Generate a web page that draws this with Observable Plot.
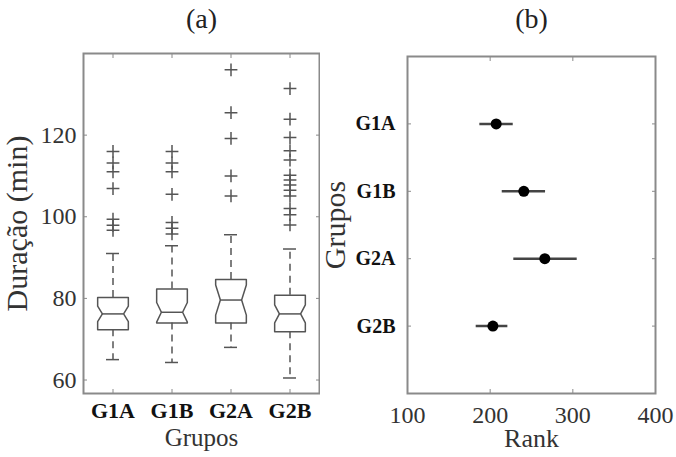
<!DOCTYPE html>
<html><head><meta charset="utf-8">
<script src="https://cdn.jsdelivr.net/npm/d3@7"></script>
<script src="https://cdn.jsdelivr.net/npm/@observablehq/plot@0.6"></script>
<style>
body{margin:0;background:#fff;}
#wrap{position:relative;width:676px;height:457px;overflow:hidden;background:#fff;}
#a{position:absolute;left:0;top:0;}
#b{position:absolute;left:320px;top:0;}
</style></head><body><div id="wrap"><div id="a"></div><div id="b"></div></div>
<script>
// ---- Data: panel (a) boxplots ----
const groups = ["G1A", "G1B", "G2A", "G2B"];
const q1 = [72.3, 74.0, 74.0, 71.8];
const medians = [76.2, 76.6, 79.6, 76.2];
const q3 = [80.2, 82.3, 84.6, 80.8];
const notchHalf = [1.9, 2.4, 3.7, 2.2];
const whiskerLow = [65.0, 64.3, 68.0, 60.5];
const whiskerHigh = [91.0, 92.9, 95.6, 92.1];
const outliersG1A = [116.0, 113.2, 111.0, 106.9, 99.4, 97.9, 96.7];
const outliersG1B = [116.0, 113.2, 111.0, 105.5, 98.6, 97.2, 95.8];
const outliersG2A = [136.0, 125.5, 119.2, 110.0, 105.1];
const outliersG2B = [131.4, 123.9, 119.4, 116.2, 113.9, 110.2, 109.0, 107.8, 106.5, 105.1, 102.0, 100.5, 98.0];
const durTicks = [60, 80, 100, 120];
const groupTicks = [1, 2, 3, 4];

// ---- Data: panel (b) rank intervals ----
const rankMean = [207.3, 240.7, 266.1, 203.3];
const rankLow = [187.5, 214.6, 228.6, 183.1];
const rankHigh = [227.9, 267.0, 305.3, 221.4];
const rankTicks = [100, 200, 300, 400];

// ---- Build tables ----
const boxHalf = 0.26, notchInner = 0.18, capHalf = 0.11;
const boxes = groups.map((g, i) => ({g, x: i + 1, q1: q1[i], med: medians[i], q3: q3[i], n: notchHalf[i], lo: whiskerLow[i], hi: whiskerHigh[i]}));
const outline = boxes.flatMap(b => [
  [b.x - boxHalf, b.q3], [b.x + boxHalf, b.q3], [b.x + boxHalf, b.med + b.n], [b.x + notchInner, b.med],
  [b.x + boxHalf, b.med - b.n], [b.x + boxHalf, b.q1], [b.x - boxHalf, b.q1], [b.x - boxHalf, b.med - b.n],
  [b.x - notchInner, b.med], [b.x - boxHalf, b.med + b.n], [b.x - boxHalf, b.q3]
].map(([x, y]) => ({g: b.g, x, y})));
const outlierLists = [outliersG1A, outliersG1B, outliersG2A, outliersG2B];
const outliers = outlierLists.flatMap((arr, i) => arr.map(v => ({x: i + 1, y: v})));
const ranks = groups.map((g, i) => ({g, pos: groups.length - i, mean: rankMean[i], lo: rankLow[i], hi: rankHigh[i]}));

const serif = "'Liberation Serif', 'Times New Roman', serif";
const frameColor = "#8a8a8a";

const plotA = Plot.plot({
  width: 340, height: 457,
  marginLeft: 83, marginRight: 21, marginTop: 53, marginBottom: 64,
  style: {fontFamily: serif, fontSize: "24px", color: "#333", background: "white", overflow: "visible"},
  x: {domain: [0.5, 4.5]},
  y: {domain: [56.7, 140]},
  marks: [
    Plot.frame({stroke: frameColor, strokeWidth: 2}),
    Plot.axisY(durTicks, {anchor: "left", tickSize: -4, tickPadding: 11, stroke: frameColor, fill: "#333", label: null}),
    Plot.axisY([], {anchor: "left", tickSize: 0, fill: "#333", fontSize: 30,
      label: "Duração (min)", labelAnchor: "center", labelOffset: 78, labelArrow: "none"}),
    Plot.axisY(durTicks, {anchor: "right", tickSize: -4, stroke: frameColor, fill: "none", label: null}),
    Plot.axisX(groupTicks, {anchor: "bottom", tickSize: -4, tickPadding: 13, stroke: frameColor,
      tickFormat: i => groups[i - 1], fontWeight: "bold", fontSize: 22, fill: "#111", label: null}),
    Plot.axisX([], {anchor: "bottom", tickSize: 0, fill: "#333", fontSize: 25, label: "Grupos", labelAnchor: "center", labelOffset: 52, labelArrow: "none"}),
    Plot.axisX(groupTicks, {anchor: "top", tickSize: -4, stroke: frameColor, fill: "none", label: null}),
    Plot.ruleX(boxes, {x: "x", y1: "q3", y2: "hi", stroke: "#555", strokeWidth: 1.5, strokeDasharray: "7,5"}),
    Plot.ruleX(boxes, {x: "x", y1: "q1", y2: "lo", stroke: "#555", strokeWidth: 1.5, strokeDasharray: "7,5"}),
    Plot.ruleY(boxes, {y: "hi", x1: d => d.x - capHalf, x2: d => d.x + capHalf, stroke: "#555", strokeWidth: 1.5}),
    Plot.ruleY(boxes, {y: "lo", x1: d => d.x - capHalf, x2: d => d.x + capHalf, stroke: "#555", strokeWidth: 1.5}),
    Plot.line(outline, {x: "x", y: "y", z: "g", stroke: "#555", strokeWidth: 1.5}),
    Plot.ruleY(boxes, {y: "med", x1: d => d.x - notchInner, x2: d => d.x + notchInner, stroke: "#555", strokeWidth: 1.5}),
    Plot.dot(outliers, {x: "x", y: "y", symbol: "plus", r: 4.2, stroke: "#555", strokeWidth: 1.5}),
    Plot.text(["(a)"], {frameAnchor: "top", lineAnchor: "bottom", dy: -26, fontSize: 28, fill: "#222"})
  ]
});
document.getElementById("a").appendChild(plotA);

const plotB = Plot.plot({
  width: 356, height: 457,
  marginLeft: 87, marginRight: 21, marginTop: 56, marginBottom: 64,
  style: {fontFamily: serif, fontSize: "24px", color: "#333", background: "white", overflow: "visible"},
  x: {domain: [100, 400]},
  y: {domain: [0, 5]},
  marks: [
    Plot.frame({stroke: frameColor, strokeWidth: 2}),
    Plot.axisX(rankTicks, {anchor: "bottom", tickSize: -4, tickPadding: 16, stroke: frameColor, fill: "#333", label: null}),
    Plot.axisX([], {anchor: "bottom", tickSize: 0, fill: "#333", fontSize: 26, label: "Rank", labelAnchor: "center", labelOffset: 53, labelArrow: "none"}),
    Plot.axisX(rankTicks, {anchor: "top", tickSize: -4, stroke: frameColor, fill: "none", label: null}),
    Plot.axisY([1, 2, 3, 4], {anchor: "left", tickSize: -4, tickPadding: 16, stroke: frameColor,
      tickFormat: p => groups[groups.length - p], fontWeight: "bold", fontSize: 20, fill: "#111", label: null}),
    Plot.axisY([], {anchor: "left", tickSize: 0, fill: "#333", fontSize: 30, label: "Grupos", labelAnchor: "center", labelOffset: 84, labelArrow: "none"}),
    Plot.axisY([1, 2, 3, 4], {anchor: "right", tickSize: -4, stroke: frameColor, fill: "none", label: null}),
    Plot.ruleY(ranks, {y: "pos", x1: "lo", x2: "hi", stroke: "#444", strokeWidth: 2.5}),
    Plot.dot(ranks, {x: "mean", y: "pos", r: 5.5, fill: "#000"}),
    Plot.text(["(b)"], {frameAnchor: "top", lineAnchor: "bottom", dy: -29, fontSize: 28, fill: "#222"})
  ]
});
document.getElementById("b").appendChild(plotB);
</script>
</body></html>
